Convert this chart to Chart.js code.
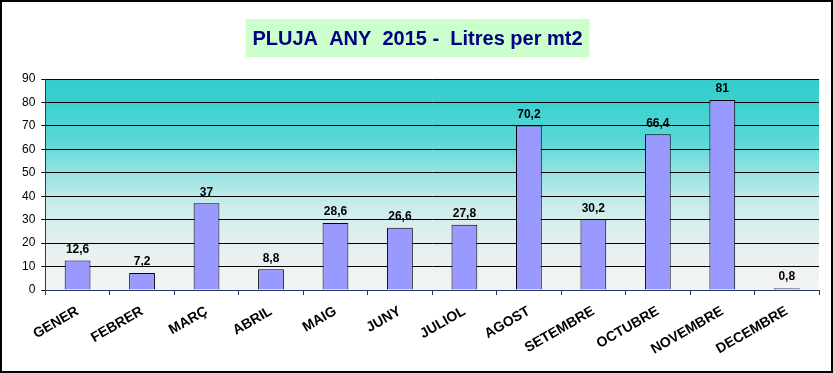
<!DOCTYPE html>
<html>
<head>
<meta charset="utf-8">
<script src="https://cdn.jsdelivr.net/npm/chart.js@4.4.0/dist/chart.umd.min.js"></script>
<style>
  html, body { margin: 0; padding: 0; background: #fff; }
  #wrap { width: 833px; height: 373px; position: relative; box-sizing: border-box; border: 2px solid #000; }
</style>
</head>
<body>
<div id="wrap"><canvas id="rainChart"></canvas></div>
<script>
// ================= DATA =================
const months = ['GENER', 'FEBRER', 'MARÇ', 'ABRIL', 'MAIG', 'JUNY', 'JULIOL', 'AGOST', 'SETEMBRE', 'OCTUBRE', 'NOVEMBRE', 'DECEMBRE'];
const rainLitres = [12.6, 7.2, 37, 8.8, 28.6, 26.6, 27.8, 70.2, 30.2, 66.4, 81, 0.8];
const chartTitle = 'PLUJA  ANY  2015 -  Litres per mt2';
const yMax = 90;
const yStep = 10;

const FONT = "'Liberation Sans', Arial, sans-serif";

// green box behind the title
const titleBoxPlugin = {
    id: 'titleBox',
    beforeDraw(chart) {
        const ctx = chart.ctx;
        const tb = chart.titleBlock;
        if (!tb) return;
        ctx.save();
        ctx.font = 'bold 20px ' + FONT;
        const w = ctx.measureText(chartTitle).width + 14;
        const cx = (tb.left + tb.right) / 2;
        ctx.fillStyle = '#ccffcc';
        ctx.fillRect(cx - w / 2, 17, w, 38);
        ctx.restore();
    }
};

// plot area background (teal to white)
const plotBgPlugin = {
    id: 'plotBg',
    beforeDraw(chart) {
        const { ctx, chartArea } = chart;
        if (!chartArea) return;
        const g = ctx.createLinearGradient(0, chartArea.top, 0, chartArea.bottom);
        g.addColorStop(0, '#33cccc');
        g.addColorStop(0.12, '#3cd0d0');
        g.addColorStop(0.3, '#5cd8d8');
        g.addColorStop(0.45, '#99e3e3');
        g.addColorStop(0.6, '#ccecec');
        g.addColorStop(0.78, '#e6efef');
        g.addColorStop(1, '#f4f4f4');
        ctx.save();
        ctx.fillStyle = g;
        ctx.fillRect(chartArea.left, chartArea.top, chartArea.right - chartArea.left, chartArea.bottom - chartArea.top);
        ctx.restore();
    }
};

// value labels above bars
const valueLabelPlugin = {
    id: 'valueLabels',
    afterDatasetsDraw(chart) {
        const ctx = chart.ctx;
        const meta = chart.getDatasetMeta(0);
        ctx.save();
        ctx.font = 'bold 12px ' + FONT;
        ctx.fillStyle = '#000';
        ctx.textAlign = 'center';
        ctx.textBaseline = 'bottom';
        meta.data.forEach((bar, i) => {
            const txt = String(rainLitres[i]).replace('.', ',');
            ctx.fillText(txt, bar.x, bar.y - 5);
        });
        ctx.restore();
    }
};

new Chart(document.getElementById('rainChart'), {
    type: 'bar',
    data: {
        labels: months,
        datasets: [{
            data: rainLitres,
            backgroundColor: '#9999ff',
            borderColor: '#000',
            borderWidth: 1,
            categoryPercentage: 1,
            barPercentage: 0.4
        }]
    },
    plugins: [titleBoxPlugin, plotBgPlugin, valueLabelPlugin],
    options: {
        responsive: true,
        maintainAspectRatio: false,
        animation: false,
        layout: { padding: { left: 14, right: 12, top: 4, bottom: 5 } },
        plugins: {
            legend: { display: false },
            tooltip: { enabled: false },
            title: {
                display: true,
                text: chartTitle,
                color: '#000080',
                font: { family: FONT, size: 20, weight: 'bold' },
                padding: { top: 21, bottom: 28 }
            }
        },
        scales: {
            x: {
                offset: true,
                grid: { drawOnChartArea: false, drawTicks: true, tickLength: 5, color: '#1f3a6a', offset: true },
                border: { color: '#1f3a6a', width: 1 },
                ticks: {
                    color: '#000',
                    font: { family: FONT, size: 14, weight: 'bold' },
                    minRotation: 30,
                    maxRotation: 30,
                    padding: 8
                }
            },
            y: {
                min: 0,
                max: yMax,
                grid: { color: '#000', lineWidth: 1, drawTicks: true, tickLength: 4 },
                border: { color: '#1f3a6a', width: 1 },
                ticks: {
                    stepSize: yStep,
                    color: '#000',
                    font: { family: FONT, size: 12 },
                    padding: 6
                }
            }
        }
    }
});
</script>
</body>
</html>
